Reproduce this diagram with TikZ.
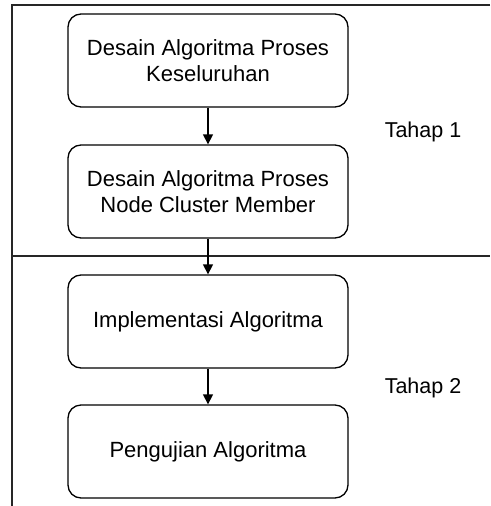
\documentclass[tikz,border=0pt]{standalone}
\usepackage{fontspec}
\setmainfont{Liberation Sans}
\usetikzlibrary{arrows.meta}
\begin{document}
\begin{tikzpicture}[x=1pt,y=-1pt,
  stepbox/.style={draw, line width=1.3pt, rounded corners=13pt, rectangle,
    minimum width=280pt, minimum height=93pt, align=center,
    font=\fontsize{22}{25.5}\selectfont, inner sep=0pt},
  flow/.style={draw, line width=1.3pt, -{Triangle[length=10pt,width=10pt]}},
  lane/.style={draw, line width=1.4pt, color=black!85},
  stagelabel/.style={font=\fontsize{21.5}{25}\selectfont}]
  \useasboundingbox (0,0) rectangle (490,506);

  % swimlane frame split into two stages
  \draw[lane] (490,5) -- (12,5) -- (12,506);
  \draw[lane] (12,256) -- (490,256);

  % process steps
  \node[stepbox] (s1) at (208,60.5) {Desain Algoritma Proses\\Keseluruhan};
  \node[stepbox] (s2) at (208,191.5) {Desain Algoritma Proses\\Node Cluster Member};
  \node[stepbox] (s3) at (208,321.5) {Implementasi Algoritma};
  \node[stepbox] (s4) at (208,451.5) {Pengujian Algoritma};

  \draw[flow] (s1) -- (s2);
  \draw[flow] (s2) -- (s3);
  \draw[flow] (s3) -- (s4);

  % stage labels
  \node[stagelabel] (t1) at (423,132) {Tahap 1};
  \node[stagelabel] (t2) at (423,388) {Tahap 2};
\end{tikzpicture}
\end{document}
